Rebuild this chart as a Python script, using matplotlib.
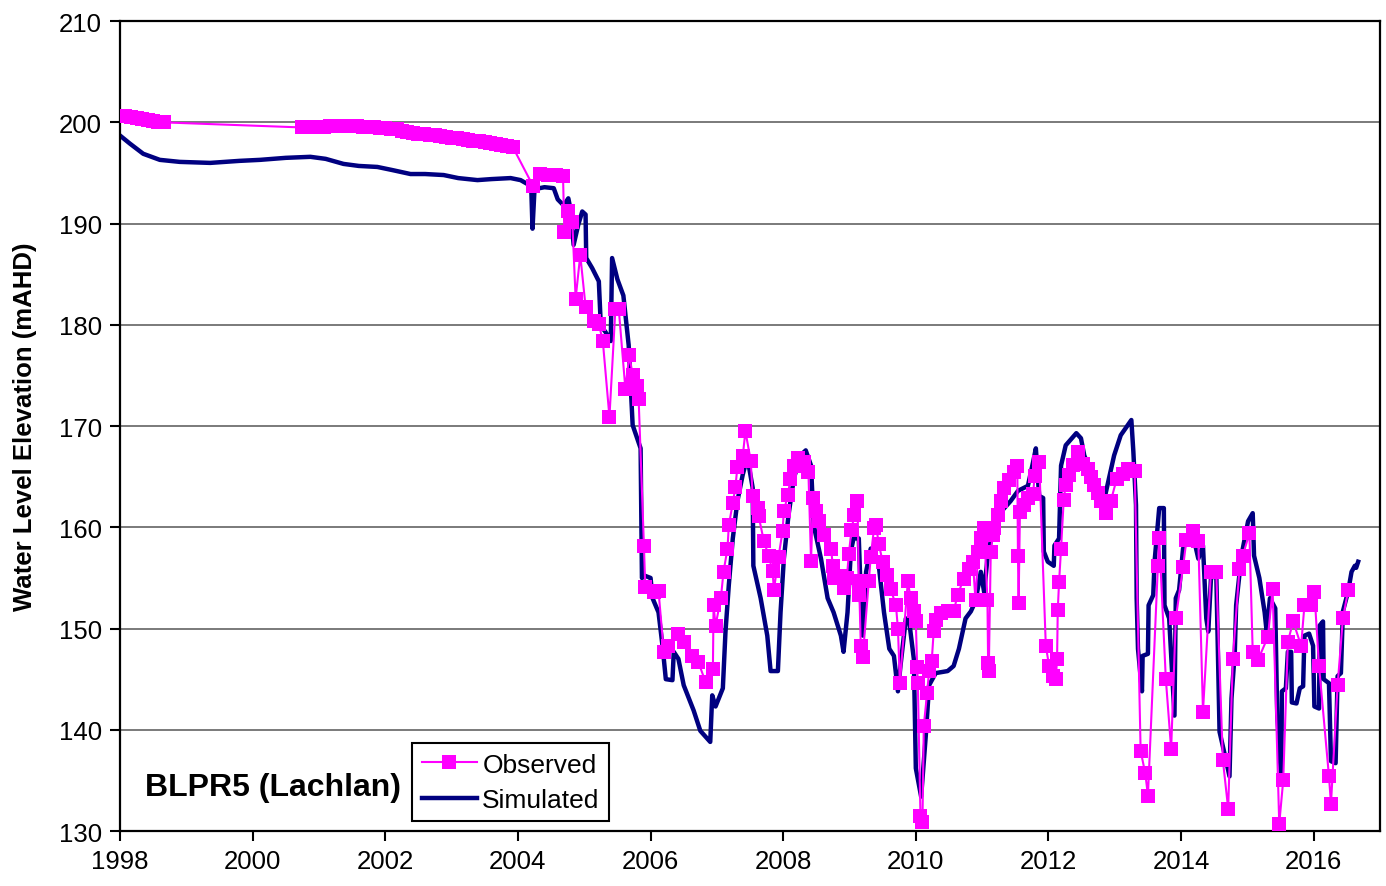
import matplotlib
matplotlib.use("Agg")
import matplotlib.pyplot as plt
import numpy as np

################################################################################
#  Data read off the hydrograph for bore BLPR5 (Lachlan)
################################################################################

obs_years = [
    1998.00, 1998.08, 1998.17, 1998.25, 1998.33, 1998.42, 1998.50, 1998.58, 1998.67,
    2000.75, 2000.83, 2000.92, 2001.00, 2001.08, 2001.17, 2001.25, 2001.33, 2001.42,
    2001.50, 2001.58, 2001.67, 2001.75, 2001.83, 2001.92, 2002.00, 2002.08, 2002.17,
    2002.25, 2002.33, 2002.42, 2002.50, 2002.58, 2002.67, 2002.75, 2002.83, 2002.92,
    2003.00, 2003.08, 2003.17, 2003.25, 2003.33, 2003.42, 2003.50, 2003.58, 2003.67,
    2003.75, 2003.83, 2003.92,
    2004.23, 2004.33, 2004.45, 2004.58, 2004.68, 2004.70, 2004.76, 2004.82, 2004.87,
    2004.94, 2005.02, 2005.14, 2005.22, 2005.28, 2005.38, 2005.47, 2005.52, 2005.62,
    2005.68, 2005.73, 2005.80, 2005.82, 2005.90, 2005.92, 2006.05, 2006.12, 2006.20,
    2006.27, 2006.41, 2006.50, 2006.63, 2006.72, 2006.83, 2006.94, 2006.95, 2006.98,
    2007.06, 2007.10, 2007.16, 2007.18, 2007.24, 2007.28, 2007.31, 2007.39, 2007.43,
    2007.51, 2007.54, 2007.62, 2007.63, 2007.71, 2007.78, 2007.84, 2007.86, 2007.93,
    2007.99, 2008.01, 2008.07, 2008.11, 2008.16, 2008.23, 2008.31, 2008.38, 2008.42,
    2008.45, 2008.49, 2008.54, 2008.61, 2008.72, 2008.75, 2008.76, 2008.87, 2008.91,
    2008.96, 2008.99, 2009.03, 2009.07, 2009.12, 2009.14, 2009.15, 2009.17, 2009.20,
    2009.29, 2009.32, 2009.37, 2009.40, 2009.44, 2009.50, 2009.57, 2009.62, 2009.70,
    2009.73, 2009.76, 2009.88, 2009.92, 2009.97, 2010.00, 2010.02, 2010.03, 2010.07,
    2010.10, 2010.12, 2010.17, 2010.20, 2010.24, 2010.27, 2010.30, 2010.38, 2010.48,
    2010.57, 2010.63, 2010.72, 2010.80, 2010.86, 2010.90, 2010.94, 2010.98, 2011.03,
    2011.08, 2011.09, 2011.10, 2011.13, 2011.16, 2011.18, 2011.24, 2011.28, 2011.33,
    2011.40, 2011.48, 2011.53, 2011.54, 2011.55, 2011.57, 2011.63, 2011.69, 2011.77,
    2011.79, 2011.86, 2011.96, 2012.01, 2012.07, 2012.11, 2012.13, 2012.14, 2012.16,
    2012.19, 2012.23, 2012.26, 2012.31, 2012.37, 2012.44, 2012.52, 2012.60, 2012.64,
    2012.69, 2012.75, 2012.79, 2012.87, 2012.94, 2013.03, 2013.12, 2013.20, 2013.30,
    2013.39, 2013.46, 2013.50, 2013.65, 2013.67, 2013.77, 2013.85, 2013.92, 2014.03,
    2014.08, 2014.18, 2014.26, 2014.33, 2014.45, 2014.53, 2014.63, 2014.71, 2014.78,
    2014.88, 2014.93, 2015.03, 2015.08, 2015.16, 2015.31, 2015.38, 2015.48, 2015.54,
    2015.61, 2015.69, 2015.81, 2015.86, 2015.96, 2016.01, 2016.08, 2016.23, 2016.26,
    2016.36, 2016.44, 2016.52,
]
obs_levels = [
    200.6, 200.6, 200.5, 200.4, 200.3, 200.2, 200.1, 200.0, 200.0,
    199.5, 199.5, 199.5, 199.5, 199.5, 199.6, 199.6, 199.6, 199.6,
    199.6, 199.6, 199.5, 199.5, 199.5, 199.4, 199.4, 199.3, 199.3,
    199.2, 199.1, 199.0, 198.9, 198.9, 198.8, 198.8, 198.7, 198.6,
    198.5, 198.5, 198.4, 198.3, 198.2, 198.2, 198.1, 198.0, 197.9,
    197.8, 197.7, 197.6,
    193.7, 194.9, 194.8, 194.8, 194.7, 189.2, 191.2, 190.2, 182.6,
    186.9, 181.8, 180.4, 180.1, 178.4, 170.9, 181.6, 181.6, 173.7,
    177.0, 175.0, 174.0, 172.7, 158.2, 154.1, 153.6, 153.7, 147.7,
    148.3, 149.5, 148.7, 147.3, 146.7, 144.7, 146.0, 152.3, 150.3,
    153.0, 155.6, 157.9, 160.2, 162.4, 164.0, 166.0, 167.0, 169.5,
    166.6, 163.1, 161.9, 161.1, 158.6, 157.2, 155.7, 153.8, 157.1,
    159.6, 161.6, 163.2, 164.8, 166.1, 166.8, 166.5, 165.5, 156.7,
    162.9, 161.6, 160.6, 159.2, 157.9, 156.2, 155.0, 155.2, 154.0,
    155.0, 157.4, 159.7, 161.2, 162.6, 154.7, 153.3, 148.3, 147.2,
    154.7, 157.1, 159.9, 160.2, 158.4, 156.6, 155.3, 153.9, 152.3,
    150.0, 144.6, 154.7, 153.0, 151.7, 150.7, 146.2, 144.6, 131.5,
    130.9, 140.4, 143.6, 145.8, 146.8, 149.8, 150.8, 151.5, 151.7,
    151.7, 153.3, 154.9, 155.9, 156.6, 152.8, 157.6, 158.9, 159.9,
    152.8, 146.6, 145.8, 157.6, 159.2, 159.9, 161.2, 162.6, 163.9,
    164.7, 165.5, 166.1, 157.2, 152.5, 161.5, 162.2, 162.9, 163.3,
    165.1, 166.5, 148.3, 146.3, 145.3, 145.0, 147.0, 151.8, 154.6,
    157.9, 162.7, 164.2, 165.2, 166.2, 167.4, 166.3, 165.8, 165.0,
    164.2, 163.4, 162.6, 161.4, 162.6, 164.8, 165.3, 165.8, 165.6,
    137.9, 135.7, 133.5, 156.2, 158.9, 145.0, 138.1, 151.0, 156.1,
    158.7, 159.6, 158.6, 141.8, 155.6, 155.6, 137.0, 132.2, 147.0,
    155.9, 157.2, 159.4, 147.7, 146.9, 149.2, 153.9, 130.7, 135.0,
    148.7, 150.7, 148.3, 152.3, 152.3, 153.6, 146.3, 135.4, 132.7,
    144.4, 151.0, 153.8,
]

sim_years = [
    1998.00, 1998.15, 1998.35, 1998.60, 1998.90, 1999.36, 1999.80, 2000.11, 2000.50,
    2000.87, 2001.10, 2001.37, 2001.60, 2001.88, 2002.10, 2002.38, 2002.60, 2002.88,
    2003.10, 2003.39, 2003.60, 2003.89, 2004.04, 2004.20, 2004.22, 2004.25, 2004.40,
    2004.54, 2004.60, 2004.69, 2004.76, 2004.79, 2004.84, 2004.91, 2004.97, 2005.02,
    2005.03, 2005.12, 2005.22, 2005.25, 2005.32, 2005.40, 2005.42, 2005.50, 2005.59,
    2005.67, 2005.73, 2005.85, 2005.87, 2005.92, 2006.00, 2006.03, 2006.12, 2006.18,
    2006.23, 2006.33, 2006.35, 2006.42, 2006.50, 2006.65, 2006.75, 2006.90, 2006.93,
    2006.98, 2007.09, 2007.13, 2007.18, 2007.24, 2007.31, 2007.39, 2007.46, 2007.54,
    2007.55, 2007.66, 2007.76, 2007.81, 2007.92, 2007.96, 2008.01, 2008.08, 2008.16,
    2008.26, 2008.34, 2008.42, 2008.46, 2008.57, 2008.67, 2008.76, 2008.87, 2008.91,
    2008.97, 2009.02, 2009.06, 2009.14, 2009.17, 2009.20, 2009.25, 2009.32, 2009.43,
    2009.52, 2009.60, 2009.67, 2009.73, 2009.77, 2009.85, 2009.90, 2009.97, 2010.00,
    2010.08, 2010.15, 2010.20, 2010.30, 2010.48, 2010.57, 2010.65, 2010.75, 2010.83,
    2010.90, 2010.98, 2011.03, 2011.09, 2011.13, 2011.24, 2011.43, 2011.54, 2011.69,
    2011.77, 2011.81, 2011.86, 2011.92, 2011.93, 2011.99, 2012.08, 2012.09, 2012.16,
    2012.19, 2012.26, 2012.42, 2012.49, 2012.54, 2012.70, 2012.85, 2012.99, 2013.09,
    2013.25, 2013.28, 2013.32, 2013.33, 2013.35, 2013.41, 2013.42, 2013.50, 2013.51,
    2013.58, 2013.60, 2013.67, 2013.74, 2013.75, 2013.82, 2013.90, 2013.92, 2013.97,
    2014.03, 2014.10, 2014.18, 2014.26, 2014.33, 2014.38, 2014.41, 2014.45, 2014.53,
    2014.58, 2014.66, 2014.73, 2014.76, 2014.81, 2014.83, 2014.91, 2015.01, 2015.08,
    2015.10, 2015.18, 2015.26, 2015.29, 2015.34, 2015.42, 2015.45, 2015.51, 2015.52,
    2015.58, 2015.61, 2015.66, 2015.67, 2015.74, 2015.79, 2015.84, 2015.86, 2015.93,
    2015.99, 2016.01, 2016.08, 2016.09, 2016.14, 2016.15, 2016.23, 2016.26, 2016.33,
    2016.36, 2016.41, 2016.44, 2016.52, 2016.57, 2016.62, 2016.64, 2016.67,
]
sim_levels = [
    198.7, 197.9, 196.9, 196.3, 196.1, 196.0, 196.2, 196.3, 196.5,
    196.6, 196.4, 195.9, 195.7, 195.6, 195.3, 194.9, 194.9, 194.8,
    194.5, 194.3, 194.4, 194.5, 194.3, 193.7, 189.5, 193.4, 193.6,
    193.5, 192.4, 191.8, 192.5, 191.5, 187.9, 189.9, 191.2, 190.9,
    186.6, 185.6, 184.3, 179.9, 179.3, 178.4, 186.6, 184.5, 182.9,
    178.0, 170.1, 167.8, 155.0, 155.2, 155.0, 153.0, 151.6, 148.3,
    145.0, 144.9, 147.7, 147.0, 144.4, 141.9, 139.9, 138.8, 143.4,
    142.3, 144.1, 149.7, 154.3, 158.9, 162.6, 165.2, 166.9, 163.9,
    156.2, 153.0, 149.3, 145.8, 145.8, 151.6, 156.9, 161.2, 164.8,
    167.1, 167.6, 166.1, 160.2, 156.9, 153.0, 151.6, 149.3, 147.7,
    151.6, 157.6, 158.9, 158.9, 153.3, 149.3, 155.6, 157.9, 156.9,
    151.6, 148.0, 147.3, 143.8, 146.4, 151.0, 150.7, 147.0, 136.2,
    133.4, 139.4, 144.4, 145.6, 145.8, 146.3, 148.0, 151.0, 151.7,
    152.7, 155.6, 153.6, 157.6, 158.6, 161.2, 162.6, 163.6, 164.1,
    166.5, 167.8, 163.1, 162.9, 157.6, 156.6, 156.2, 158.2, 158.9,
    166.1, 168.1, 169.3, 168.8, 167.1, 164.5, 163.0, 167.1, 169.1,
    170.6, 167.5, 162.2, 153.0, 148.0, 143.8, 147.3, 147.5, 152.3,
    153.3, 156.6, 161.9, 161.9, 152.3, 151.0, 141.4, 153.0, 153.8,
    157.9, 158.9, 159.2, 156.9, 158.2, 151.0, 149.7, 154.9, 155.6,
    139.8, 137.5, 135.4, 143.1, 147.7, 152.3, 157.2, 160.6, 161.4,
    157.2, 155.0, 151.6, 149.7, 153.0, 152.0, 141.4, 135.2, 143.8,
    144.1, 147.7, 147.7, 142.7, 142.6, 144.1, 144.3, 149.3, 149.5,
    148.3, 142.3, 142.1, 150.3, 150.7, 145.0, 144.6, 136.9, 136.7,
    145.3, 145.6, 151.7, 153.7, 155.6, 156.2, 156.0, 156.6,
]

x_ticks = np.arange(1998, 2017, 2)
y_ticks = np.arange(130, 211, 10)

################################################################################
#  Figure
################################################################################

plt.rcParams["font.family"] = ["Liberation Sans", "DejaVu Sans"]

fig = plt.figure(figsize=(13.86, 8.87), dpi=100)
ax = fig.add_axes([0.0866, 0.062, 0.9091, 0.913])

# horizontal grid only, drawn under the data
for val in y_ticks[1:-1]:
    ax.axhline(val, color="#707070", lw=1.3, zorder=0)

ax.plot(sim_years, sim_levels, color="#000080", lw=3.2,
        solid_joinstyle="round", label="Simulated", zorder=2)
ax.plot(obs_years, obs_levels, color="#FF00FF", lw=1.5, marker="s",
        markersize=10, markeredgewidth=0, label="Observed", zorder=3)

ax.set_xlim(1998, 2017)
ax.set_ylim(130, 210)
ax.set_xticks(x_ticks)
ax.set_yticks(y_ticks)
ax.tick_params(direction="out", length=7, width=1.5, labelsize=18.5, pad=6)

for spine in ax.spines.values():
    spine.set_linewidth(1.6)
    spine.set_color("black")

ax.set_ylabel("Water Level Elevation (mAHD)", fontsize=18.5,
              fontweight="bold", labelpad=16)

ax.text(0.02, 0.054, "BLPR5 (Lachlan)", transform=ax.transAxes,
        fontsize=23, fontweight="bold", va="center", ha="left")

# legend: observed first, like the original
handles, labels = ax.get_legend_handles_labels()
leg = ax.legend(handles[::-1], labels[::-1], loc="lower left",
                bbox_to_anchor=(0.232, 0.012), borderaxespad=0,
                fontsize=19, fancybox=False, framealpha=1,
                edgecolor="black", handlelength=2.1, handletextpad=0.2,
                borderpad=0.35, labelspacing=0.43)
leg.get_frame().set_linewidth(1.5)

fig.savefig("out.png", dpi=100)
